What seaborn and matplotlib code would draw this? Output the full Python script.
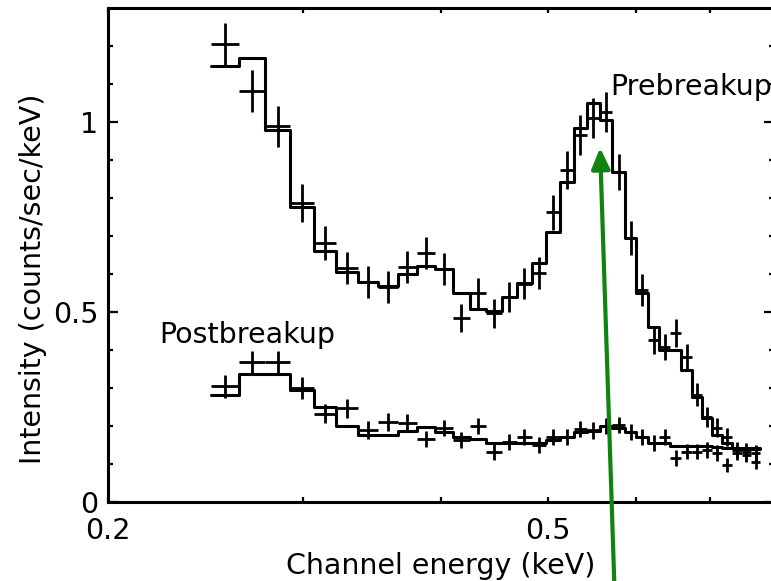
import numpy as np
import pandas as pd
import matplotlib
matplotlib.use("Agg")
import matplotlib.pyplot as plt
from matplotlib.ticker import FixedLocator, NullFormatter, FixedFormatter
import seaborn as sns

# Spectral channels (keV): centres of equal-width energy bins
channel_centers = [0.2554, 0.2701, 0.2848, 0.2995, 0.3142, 0.3289, 0.3436, 0.3583, 0.3730,
                   0.3877, 0.4024, 0.4171, 0.4318, 0.4465, 0.4612, 0.4759, 0.4906, 0.5053,
                   0.5200, 0.5347, 0.5494, 0.5641, 0.5788, 0.5935, 0.6082, 0.6229, 0.6376,
                   0.6523, 0.6670, 0.6817, 0.6964, 0.7111, 0.7258, 0.7405, 0.7552, 0.7699]
bin_width = 0.0147

# Prebreakup spectrum: measured counts, 1-sigma errors, fitted model
pre_counts = [1.205, 1.082, 0.989, 0.787, 0.682, 0.616, 0.579, 0.566, 0.619, 0.655, 0.613, 0.484,
              0.550, 0.497, 0.539, 0.574, 0.603, 0.763, 0.874, 0.966, 1.010, 1.026, 0.868, 0.695,
              0.558, 0.426, 0.408, 0.445, 0.382, 0.282, 0.224, 0.195, 0.171, 0.137, 0.132, 0.129]
pre_errors = [0.055, 0.056, 0.054, 0.049, 0.045, 0.042, 0.042, 0.041, 0.042, 0.043, 0.042, 0.037,
              0.040, 0.038, 0.040, 0.041, 0.042, 0.046, 0.049, 0.052, 0.053, 0.053, 0.048, 0.044,
              0.041, 0.036, 0.035, 0.036, 0.034, 0.030, 0.027, 0.025, 0.024, 0.022, 0.022, 0.021]
pre_model = [1.147, 1.168, 0.979, 0.776, 0.661, 0.605, 0.579, 0.568, 0.600, 0.622, 0.613, 0.550,
             0.508, 0.503, 0.539, 0.576, 0.629, 0.711, 0.842, 0.984, 1.050, 1.005, 0.868, 0.695,
             0.550, 0.461, 0.400, 0.400, 0.347, 0.276, 0.221, 0.176, 0.155, 0.142, 0.142, 0.142]

# Postbreakup spectrum
post_counts = [0.305, 0.368, 0.368, 0.300, 0.232, 0.247, 0.189, 0.211, 0.208, 0.166, 0.195, 0.163,
               0.200, 0.132, 0.158, 0.171, 0.150, 0.171, 0.171, 0.192, 0.189, 0.200, 0.203, 0.184,
               0.171, 0.155, 0.171, 0.116, 0.132, 0.132, 0.137, 0.129, 0.097, 0.129, 0.124, 0.105]
post_errors = [0.030, 0.030, 0.030, 0.028, 0.025, 0.025, 0.024, 0.024, 0.023, 0.022, 0.022, 0.022,
               0.022, 0.021, 0.021, 0.021, 0.021, 0.021, 0.021, 0.022, 0.022, 0.022, 0.022, 0.021,
               0.021, 0.021, 0.021, 0.020, 0.020, 0.020, 0.020, 0.020, 0.019, 0.019, 0.019, 0.019]
post_model = [0.282, 0.337, 0.337, 0.295, 0.250, 0.200, 0.176, 0.176, 0.187, 0.197, 0.184, 0.171,
              0.166, 0.155, 0.155, 0.155, 0.155, 0.163, 0.171, 0.184, 0.187, 0.200, 0.195, 0.184,
              0.171, 0.155, 0.155, 0.147, 0.147, 0.147, 0.147, 0.145, 0.143, 0.142, 0.140, 0.140]

x_major_ticks = [0.2, 0.5]
x_major_labels = ["0.2", "0.5"]
x_minor_ticks = [0.3, 0.4, 0.6, 0.7, 0.8]
y_major_ticks = [0, 0.5, 1]
y_major_labels = ["0", "0.5", "1"]

sns.set_theme(style="ticks")
plt.rcParams["font.family"] = ["DejaVu Sans"]
FS = 20.5

fig = plt.figure(figsize=(7.71, 5.81), dpi=100)
W, H = 771, 581
ax = fig.add_axes([108 / W, 79 / H, (774 - 108) / W, (502 - 8) / H])
ax.set_facecolor("white")
ax.set_xscale("log")

centers = np.array(channel_centers)
edges = np.append(centers - bin_width / 2, centers[-1] + bin_width / 2)


def draw_model(values):
    steps = pd.DataFrame({"energy": edges, "rate": list(values) + [values[-1]]})
    sns.lineplot(data=steps, x="energy", y="rate", estimator=None, sort=False,
                 drawstyle="steps-post", color="black", linewidth=2.2, ax=ax)


def draw_counts(values, errors):
    ax.errorbar(centers, values, xerr=bin_width / 2, yerr=errors, fmt="none",
                ecolor="black", elinewidth=2.0, capsize=0)


draw_model(pre_model)
draw_counts(pre_counts, pre_errors)
draw_model(post_model)
draw_counts(post_counts, post_errors)

ax.set_xlim(0.2, 0.8)
ax.set_ylim(0, 1.3)

ax.xaxis.set_major_locator(FixedLocator(x_major_ticks))
ax.xaxis.set_major_formatter(FixedFormatter(x_major_labels))
ax.xaxis.set_minor_locator(FixedLocator(x_minor_ticks))
ax.xaxis.set_minor_formatter(NullFormatter())
ax.yaxis.set_major_locator(FixedLocator(y_major_ticks))
ax.yaxis.set_major_formatter(FixedFormatter(y_major_labels))
ax.yaxis.set_minor_locator(FixedLocator(np.round(np.arange(0.1, 1.3, 0.1), 2)))

ax.tick_params(axis="both", which="both", direction="in", top=True, right=True,
               color="black", width=1.6, labelsize=FS, labelcolor="black")
ax.tick_params(axis="y", which="major", length=7.5, pad=7)
ax.tick_params(axis="y", which="minor", length=3.8)
ax.tick_params(axis="x", which="both", length=3.8, pad=11)

for sp in ax.spines.values():
    sp.set_linewidth(2.2)
    sp.set_color("black")
    sp.set_visible(True)

ax.set_xlabel("Channel energy (keV)", fontsize=FS, color="black", labelpad=5)
ax.set_ylabel("Intensity (counts/sec/keV)", fontsize=FS, color="black")
ax.yaxis.set_label_coords(-0.092, 0.451)

ax.text(0.569, 1.071, "Prebreakup", fontsize=FS, color="black", ha="left", va="baseline")
ax.text(0.2224, 0.418, "Postbreakup", fontsize=FS, color="black", ha="left", va="baseline")

ax.annotate("", xy=(0.557, 0.932), xytext=(0.574, -0.23), xycoords="data",
            arrowprops=dict(arrowstyle="-|>,head_length=0.9,head_width=0.4",
                            color="#118311", lw=3.0, shrinkA=0, shrinkB=0,
                            mutation_scale=14),
            annotation_clip=False)

fig.savefig("out.png", dpi=100, facecolor="white")
